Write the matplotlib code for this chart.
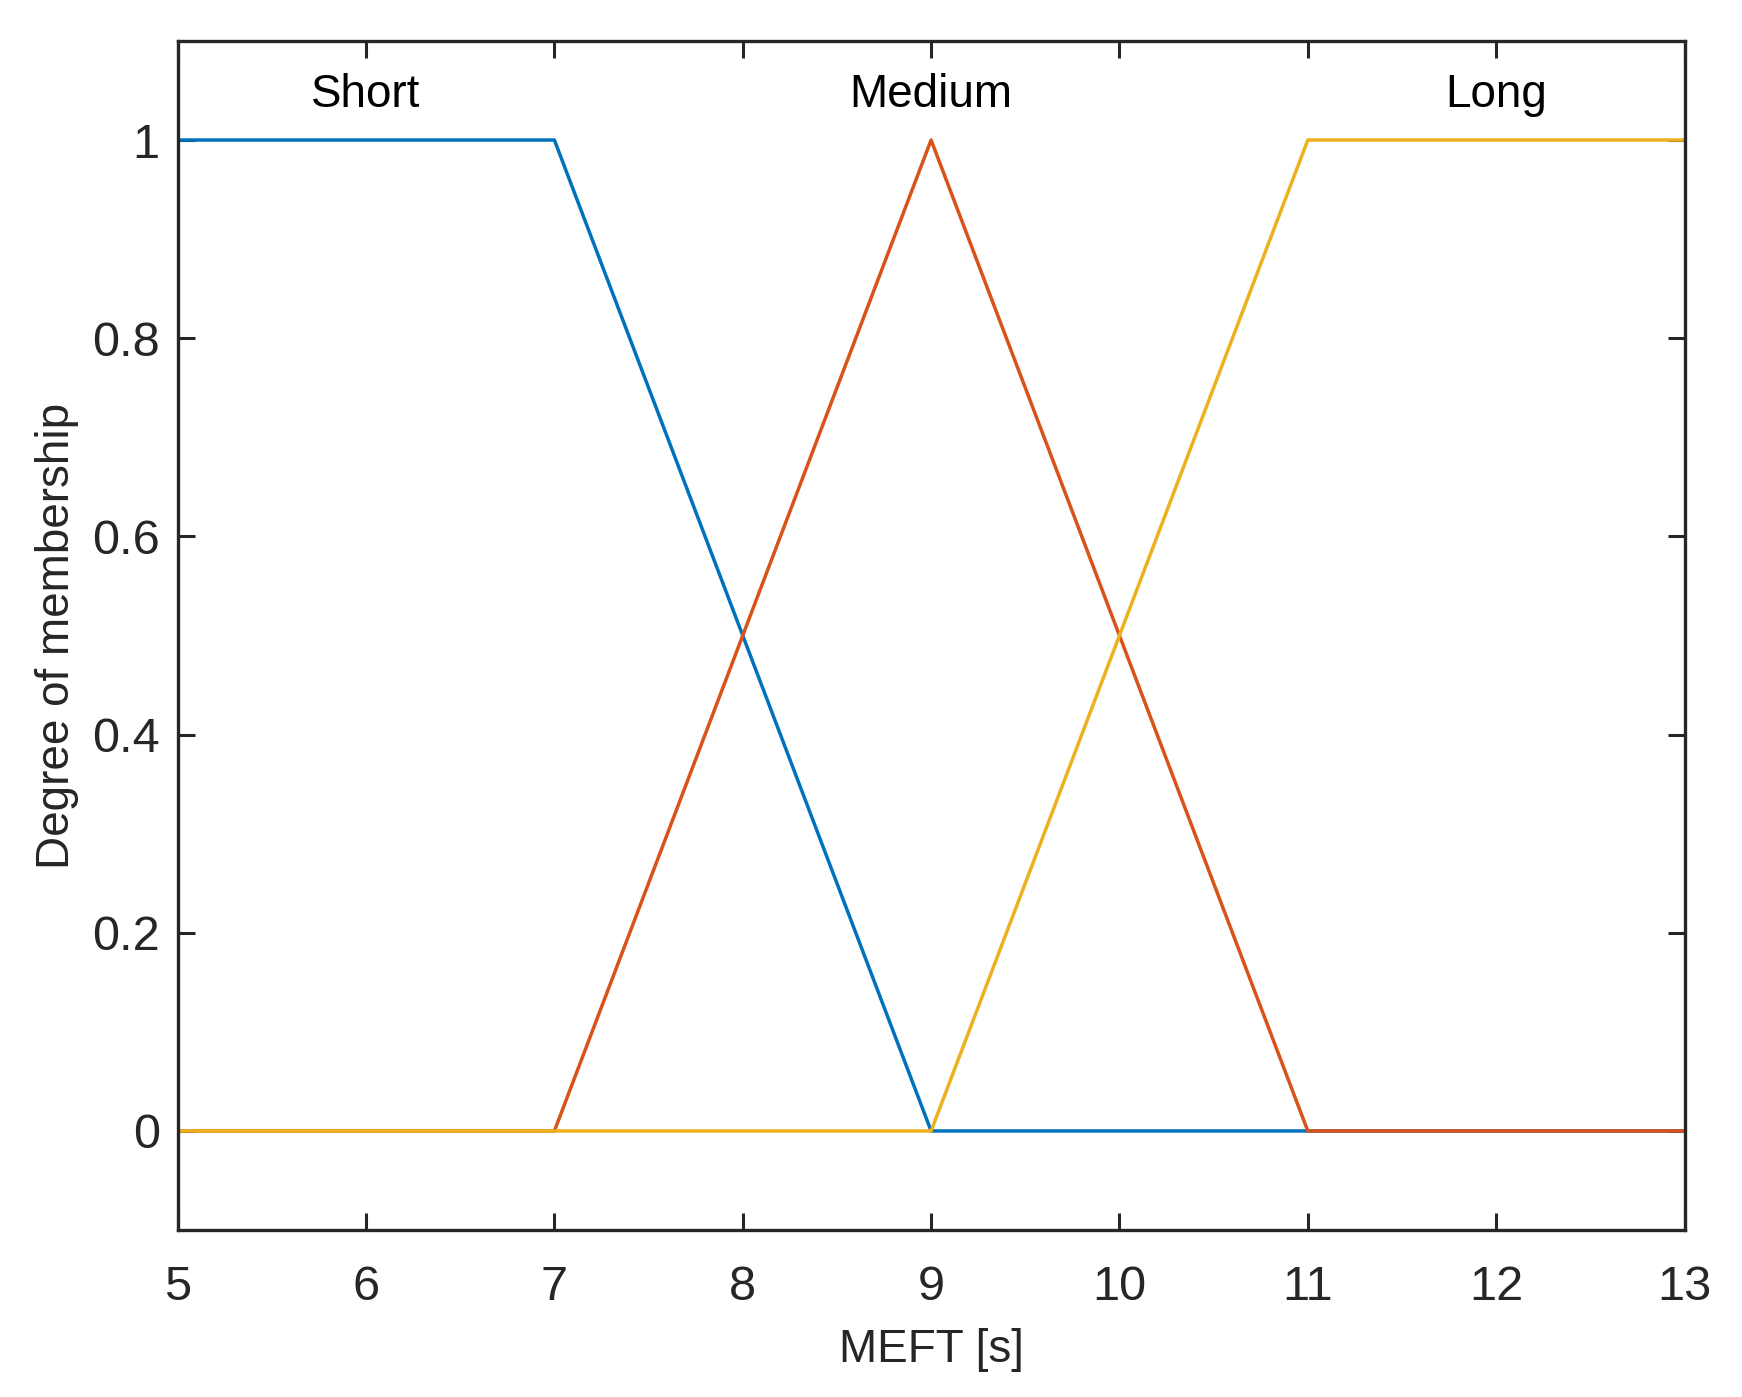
import matplotlib
matplotlib.use("Agg")
import matplotlib.pyplot as plt

plt.rcParams['font.family'] = ['Liberation Sans', 'DejaVu Sans']

short_x = [5, 7, 9, 13]
short_y = [1, 1, 0, 0]
medium_x = [5, 7, 9, 11, 13]
medium_y = [0, 0, 1, 0, 0]
long_x = [5, 9, 11, 13]
long_y = [0, 0, 1, 1]
labels = ["Short", "Medium", "Long"]
label_x = [6, 9, 12]
label_y = 1.045
xticks = [5, 6, 7, 8, 9, 10, 11, 12, 13]
yticks = [0, 0.2, 0.4, 0.6, 0.8, 1]
ytick_labels = ["0", "0.2", "0.4", "0.6", "0.8", "1"]

fig = plt.figure(figsize=(17.42, 13.97), dpi=100)
ax = fig.add_axes([0.102, 0.1195, 0.865, 0.8512])
c = '#262626'
ax.plot(short_x, short_y, color='#0072BD', lw=2.5)
ax.plot(medium_x, medium_y, color='#D95319', lw=2.5)
ax.plot(long_x, long_y, color='#EDB120', lw=2.5)
for t, x in zip(labels, label_x):
    ax.text(x, label_y, t, ha='center', va='center', fontsize=33, color='black')
ax.set_xlim(5, 13)
ax.set_ylim(-0.1, 1.1)
ax.set_xticks(xticks)
ax.set_xticklabels([str(v) for v in xticks])
ax.set_yticks(yticks)
ax.set_yticklabels(ytick_labels)
ax.tick_params(direction='in', length=12, width=2.2, top=True, right=True,
               labelsize=35, colors=c)
ax.tick_params(axis='x', pad=25)
ax.tick_params(axis='y', pad=13)
for s in ax.spines.values():
    s.set_linewidth(2.4)
    s.set_color(c)
ax.set_xlabel("MEFT [s]", fontsize=33, color=c, labelpad=13)
ax.set_ylabel("Degree of membership", fontsize=33, color=c, labelpad=9)
fig.savefig("out.png", dpi=100)
